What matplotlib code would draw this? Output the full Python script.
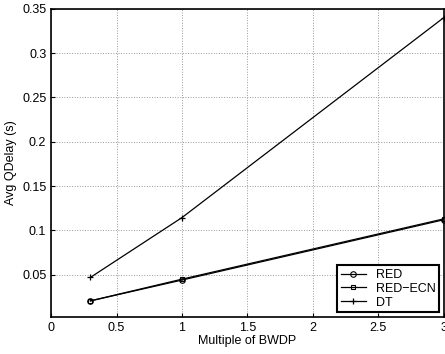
import numpy as np
import matplotlib.pyplot as plt

plt.rcParams['font.family'] = ['Liberation Sans', 'DejaVu Sans']

x = [0.3, 1, 3]
red = [0.0205, 0.0440, 0.1120]
red_ecn = [0.0205, 0.0450, 0.1130]
dt = [0.0470, 0.1145, 0.3400]

fig = plt.figure(figsize=(4.45, 3.54), dpi=100)
ax = fig.add_axes([0.115, 0.105, 0.882, 0.87])

ax.plot(x, red, 'k-o', lw=0.9, ms=4, mfc='none', mew=0.8, label='RED')
ax.plot(x, red_ecn, 'k-s', lw=0.9, ms=3.5, mfc='none', mew=0.8, label='RED\u2212ECN')
ax.plot(x, dt, 'k-+', lw=0.9, ms=5, mew=0.9, label='DT')

ax.set_xlim(0, 3)
ax.set_ylim(0.0025, 0.35)
ax.set_xticks([0, 0.5, 1, 1.5, 2, 2.5, 3])
ax.set_xticklabels(['0', '0.5', '1', '1.5', '2', '2.5', '3'])
ax.set_yticks([0.05, 0.1, 0.15, 0.2, 0.25, 0.3, 0.35])
ax.set_yticklabels(['0.05', '0.1', '0.15', '0.2', '0.25', '0.3', '0.35'])
ax.grid(True, ls=':', color='#999999', lw=0.7)
ax.tick_params(direction='in', labelsize=9, length=3)
for s in ax.spines.values():
    s.set_linewidth(1.2)
ax.set_xlabel('Multiple of BWDP', fontsize=9, labelpad=1)
ax.set_ylabel('Avg QDelay (s)', fontsize=9, labelpad=4)

leg = ax.legend(loc='lower right', fontsize=9, fancybox=False, framealpha=1,
                edgecolor='black', handlelength=2.0, borderaxespad=0.35,
                labelspacing=0.15, borderpad=0.3)
leg.get_frame().set_linewidth(1.5)

plt.savefig('out.png', dpi=100)
